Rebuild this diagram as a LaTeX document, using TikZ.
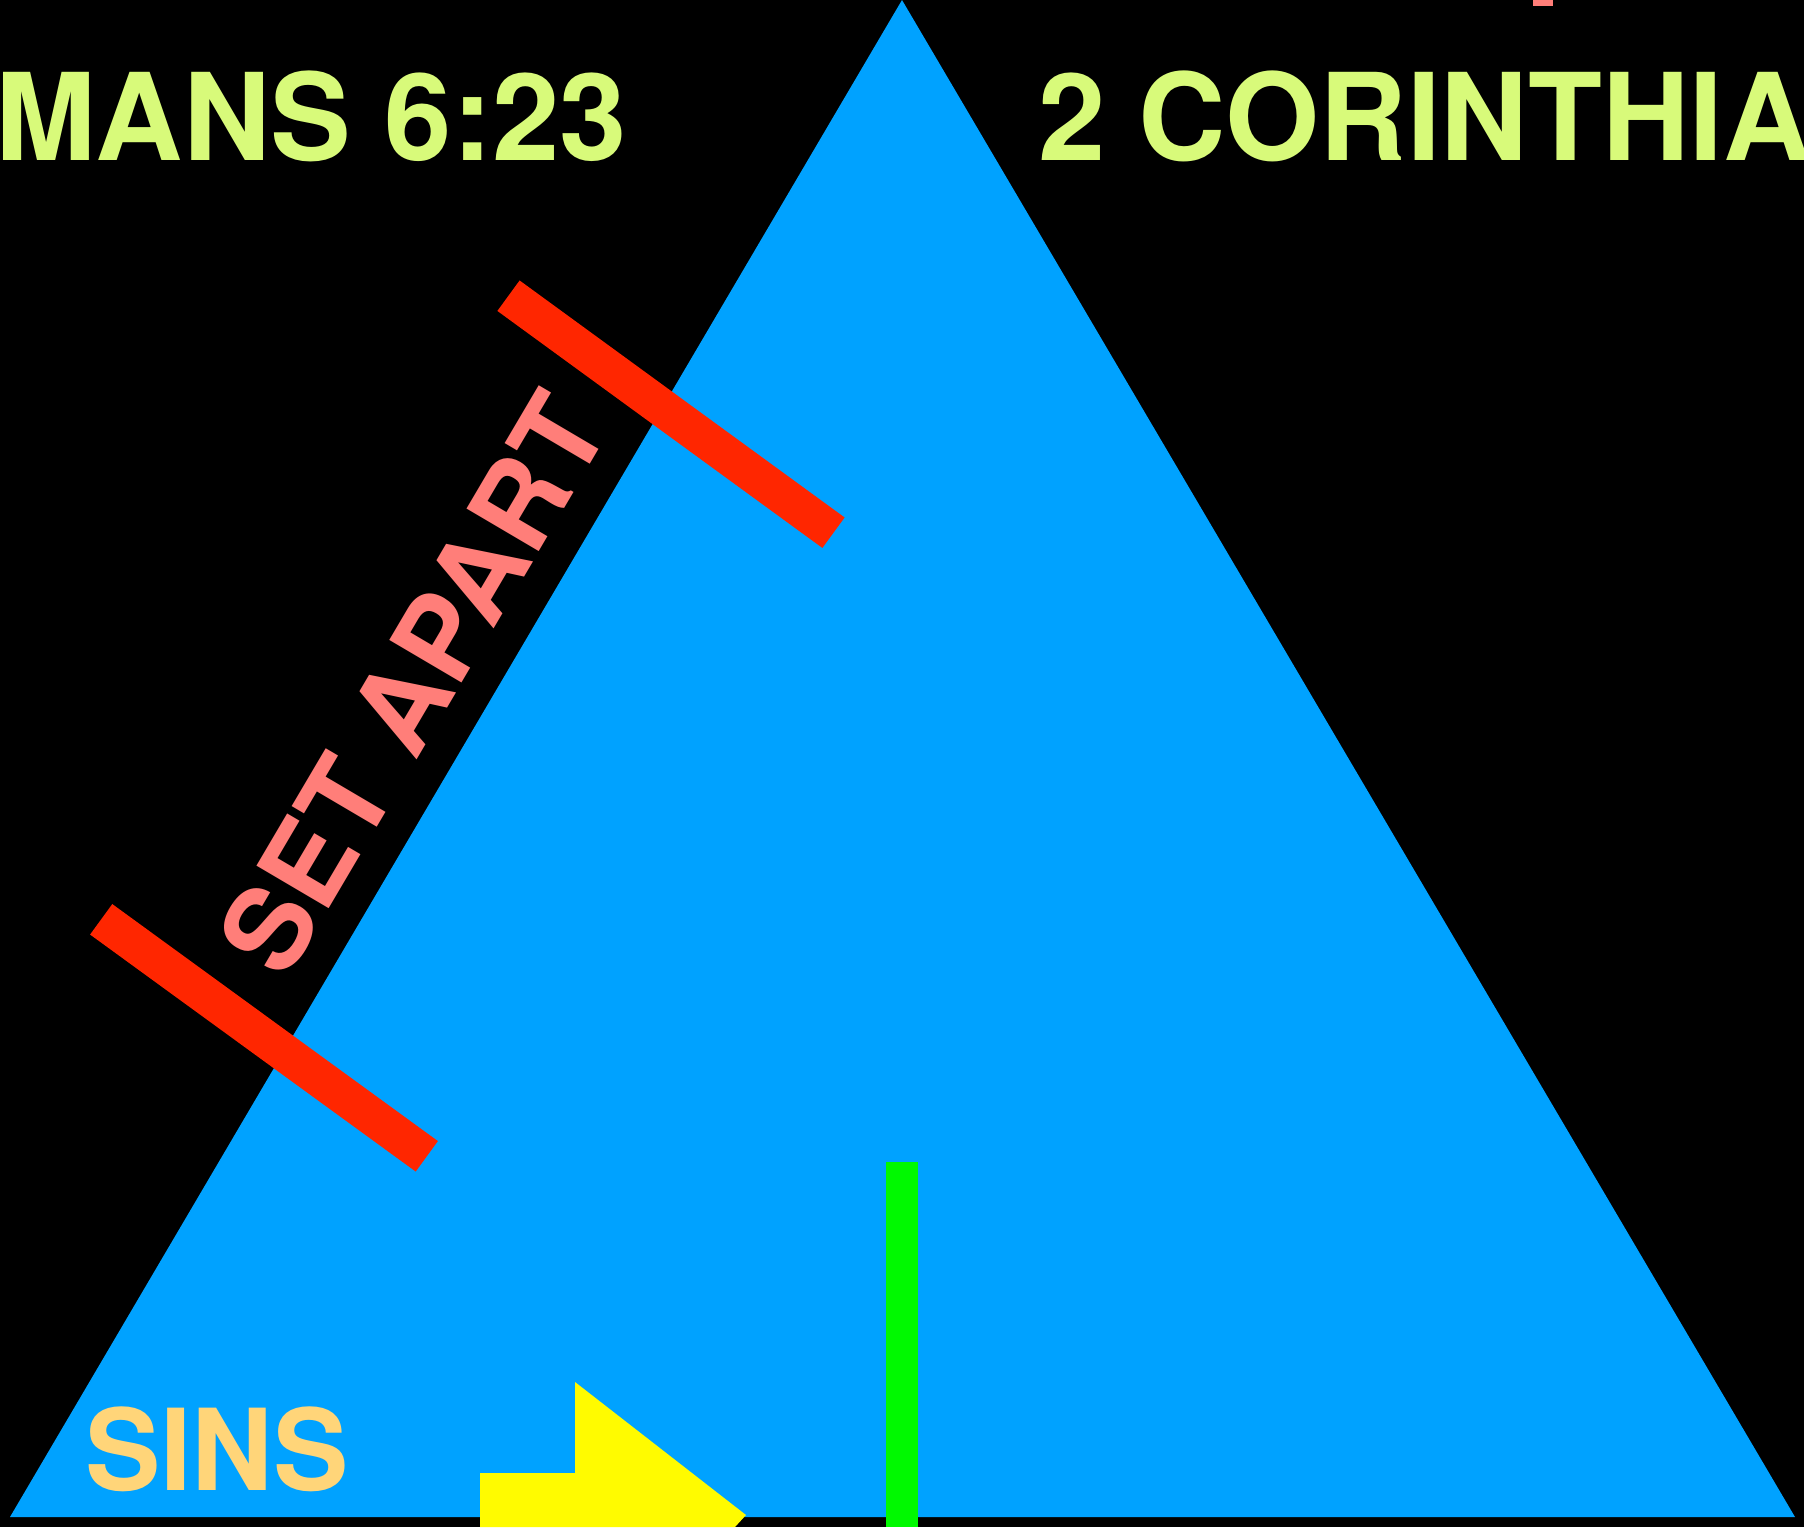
\documentclass[tikz,border=0pt]{standalone}
\usepackage{fontspec}
\setmainfont{TeX Gyre Heros}
\definecolor{bgblack}{RGB}{0,0,0}
\definecolor{triblue}{RGB}{0,162,255}
\definecolor{barred}{RGB}{255,38,0}
\definecolor{headgreen}{RGB}{216,250,122}
\definecolor{sinsgold}{RGB}{255,213,121}
\definecolor{salmon}{RGB}{255,126,121}
\definecolor{arrowyellow}{RGB}{255,251,0}
\definecolor{bargreen}{RGB}{0,249,0}
\tikzset{
  bigtext/.style={inner sep=0pt, outer sep=0pt, font=\fontsize{118}{130}\selectfont\bfseries},
  heading/.style={inner sep=0pt, outer sep=0pt, font=\fontsize{121}{130}\selectfont\bfseries, text=headgreen, anchor=base west},
  redbar/.style={draw=barred, line width=37.7pt, line cap=butt},
}
\begin{document}
\begin{tikzpicture}[x=1pt,y=-1pt]
\useasboundingbox (0,0) rectangle (1804,1527);
\clip (0,0) rectangle (1804,1527);
\fill[bgblack] (0,0) rectangle (1804,1527);
% blue triangle
\fill[triblue] (902,0) -- (10,1517) -- (1795,1517) -- cycle;
% headings
\node[heading] (romans) at (-5,160) {MANS 6:23};
\node[heading] (cor) at (1038,160) {2 CORINTHIA};
% small salmon mark at top
\fill[salmon] (1533,0) rectangle (1553,6);
% red bars
\coordinate (ua) at (508.5,295.7);
\coordinate (ub) at (833.5,532.7);
\coordinate (la) at (101.2,919.3);
\coordinate (lb) at (426.8,1156.3);
\draw[redbar] (ua) -- (ub);
\draw[redbar] (la) -- (lb);
% set apart
\node[bigtext, font=\fontsize{115}{130}\selectfont\bfseries, text=salmon, anchor=base, rotate=59.5] (setapart) at (449,705) {SET APART};
% sins
\node[bigtext, font=\fontsize{113}{130}\selectfont\bfseries, text=sinsgold, anchor=base west] (sins) at (85,1490) {SINS};
% yellow arrow
\fill[arrowyellow] (480,1527) -- (480,1473) -- (575,1473) -- (575,1382) -- (746,1515) -- (735,1527) -- cycle;
% green bar
\fill[bargreen] (886,1162) rectangle (918,1527);
\end{tikzpicture}
\end{document}
